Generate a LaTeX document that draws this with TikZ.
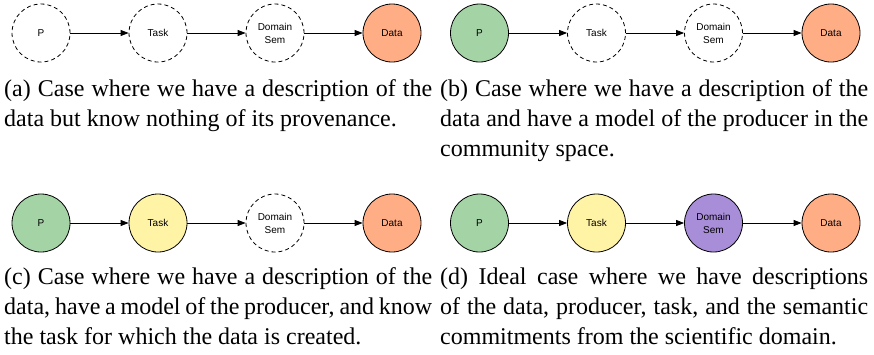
\documentclass[tikz,border=0pt]{standalone}
\usepackage{fontspec}
\setmainfont{Liberation Serif}
\setsansfont{Liberation Sans}
\usetikzlibrary{arrows.meta}

\definecolor{prodcol}{HTML}{A4D3A6}
\definecolor{taskcol}{HTML}{FFF3A6}
\definecolor{semcol}{HTML}{A88DD8}
\definecolor{datacol}{HTML}{FFAD85}

\begin{document}
\begin{tikzpicture}[x=1pt,y=-1pt,
    ent/.style={circle,draw,line width=0.8pt,minimum size=58pt,inner sep=0pt,
      align=center,font=\fontsize{10}{13}\selectfont\sffamily},
    unknown/.style={ent,dash pattern=on 4pt off 3pt},
    flow/.style={-{Triangle[length=8pt,width=6pt]},line width=0.8pt},
    subcap/.style={anchor=base west,text width=428pt,align=justify,inner sep=0pt,
      font=\fontsize{24}{30}\selectfont}]
    \useasboundingbox (0,0) rectangle (874,354);

    % (a) only the data is described
    \node[unknown] (a-p) at (41,33) {P};
    \node[unknown] (a-task) at (158,33) {Task};
    \node[unknown] (a-sem) at (275,33) {Domain\\Sem};
    \node[ent,fill=datacol] (a-data) at (392,33) {Data};
    \draw[flow] (a-p) -- (a-task);
    \draw[flow] (a-task) -- (a-sem);
    \draw[flow] (a-sem) -- (a-data);
    \node[subcap] (a-cap) at (4,96) {(a) Case where we have a description of the data but know nothing of its provenance.};

    % (b) producer known
    \node[ent,fill=prodcol] (b-p) at (479.5,33) {P};
    \node[unknown] (b-task) at (596.5,33) {Task};
    \node[unknown] (b-sem) at (713.5,33) {Domain\\Sem};
    \node[ent,fill=datacol] (b-data) at (831,33) {Data};
    \draw[flow] (b-p) -- (b-task);
    \draw[flow] (b-task) -- (b-sem);
    \draw[flow] (b-sem) -- (b-data);
    \node[subcap] (b-cap) at (440,96) {(b) Case where we have a description of the data and have a model of the producer in the community space.};

    % (c) producer and task known
    \node[ent,fill=prodcol] (c-p) at (41,223) {P};
    \node[ent,fill=taskcol] (c-task) at (158,223) {Task};
    \node[unknown] (c-sem) at (275,223) {Domain\\Sem};
    \node[ent,fill=datacol] (c-data) at (392,223) {Data};
    \draw[flow] (c-p) -- (c-task);
    \draw[flow] (c-task) -- (c-sem);
    \draw[flow] (c-sem) -- (c-data);
    \node[subcap] (c-cap) at (4,284) {(c) Case where we have a description of the data, have a model of the producer, and know the task for which the data is created.};

    % (d) everything known
    \node[ent,fill=prodcol] (d-p) at (479.5,223) {P};
    \node[ent,fill=taskcol] (d-task) at (596.5,223) {Task};
    \node[ent,fill=semcol] (d-sem) at (713.5,223) {Domain\\Sem};
    \node[ent,fill=datacol] (d-data) at (831,223) {Data};
    \draw[flow] (d-p) -- (d-task);
    \draw[flow] (d-task) -- (d-sem);
    \draw[flow] (d-sem) -- (d-data);
    \node[subcap] (d-cap) at (440,284) {(d) Ideal case where we have descriptions of the data, producer, task, and the semantic commitments from the scientific domain.};
\end{tikzpicture}
\end{document}
